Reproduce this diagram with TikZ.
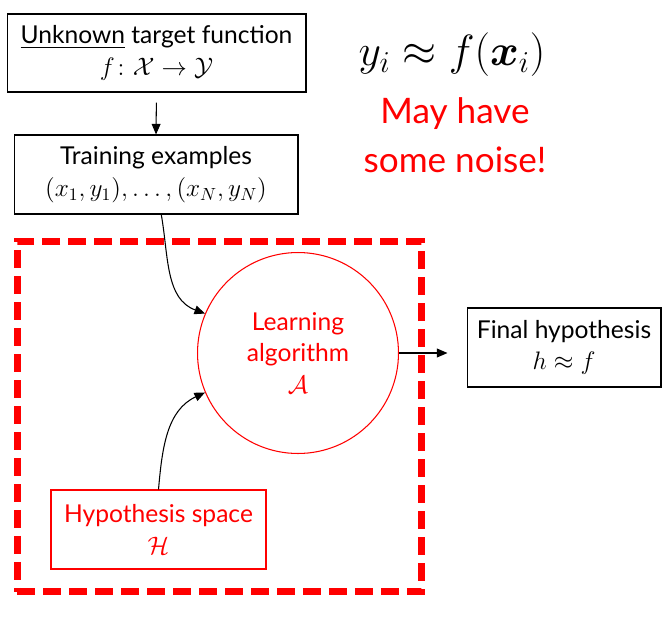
\documentclass[tikz,border=0pt]{standalone}
\usepackage{fontspec}
\setmainfont{Lato}
\usepackage{amsmath}
\usepackage{xcolor}
\definecolor{alarm}{RGB}{255,0,0}
\usetikzlibrary{arrows.meta, positioning, calc}
\tikzset{
  plainbox/.style={draw=black, line width=0.6pt,
    minimum width=5.98cm, minimum height=1.56cm, inner sep=2pt,
    align=center, font=\fontsize{14}{18}\selectfont},
  hypobox/.style={draw=alarm, line width=0.6pt, text=alarm,
    minimum width=4.3cm, minimum height=1.58cm, inner sep=2pt,
    align=center, font=\fontsize{14}{18}\selectfont},
  learnnode/.style={circle, draw=alarm, line width=0.6pt, text=alarm,
    minimum size=4.02cm, inner sep=0pt,
    align=center, font=\fontsize{14}{18}\selectfont},
  zonebox/.style={draw=alarm, line width=4pt,
    dash pattern=on 0.36cm off 0.16cm, inner sep=0pt,
    minimum width=8.1cm, minimum height=7.02cm},
  flowarrow/.style={-{Triangle[length=6pt,width=5pt]}, line width=0.6pt}
}
\newcommand{\bigmath}[1]{{\fontsize{15}{18}\selectfont$#1$}}
\begin{document}
\begin{tikzpicture}[x=0.02cm, y=0.02cm]
  \useasboundingbox (0,0) rectangle (668,620);

  %% Red dashed region
  \node[zonebox] (zone) at (219.5,203.5) {};

  %% Left column
  \node[plainbox] (target) at (156.5,567)
    {\underline{Unknown} target function\\\bigmath{f\colon \mathcal{X}\to\mathcal{Y}}};
  \node[plainbox, minimum width=5.68cm, minimum height=1.58cm] (samples) at (156,445.5)
    {Training examples\\$(x_1,y_1),\ldots,(x_N,y_N)$};
  \node[hypobox] (space) at (158.5,90.5) {Hypothesis space\\\bigmath{\mathcal{H}}};

  %% Learning algorithm and result
  \node[learnnode] (learner) at (298,267) {Learning\\algorithm\\\bigmath{\mathcal{A}}};
  \node[plainbox, minimum width=3.88cm, minimum height=1.58cm] (final) at (564,272.5)
    {Final hypothesis\\\bigmath{h\approx f}};

  %% Note on noise
  \node[font=\fontsize{24}{28}\selectfont] (formula) at (452,565)
    {$y_i\approx f(\boldsymbol{x}_i)$};
  \node[text=alarm, align=center, font=\fontsize{20}{28}\selectfont] (noise) at (455,485)
    {May have\\some noise!};

  %% Arrows
  \draw[flowarrow, shorten <=0.2cm] (target.south) -- (samples.north);
  \draw[flowarrow] ([xshift=3pt]samples.south) to[out=-80, in=160] (learner.157);
  \draw[flowarrow] (space.north) to[out=85, in=205] (learner.203);
  \draw[flowarrow, shorten >=0.38cm] (learner.east) -- (learner.east -| final.west);
\end{tikzpicture}
\end{document}
